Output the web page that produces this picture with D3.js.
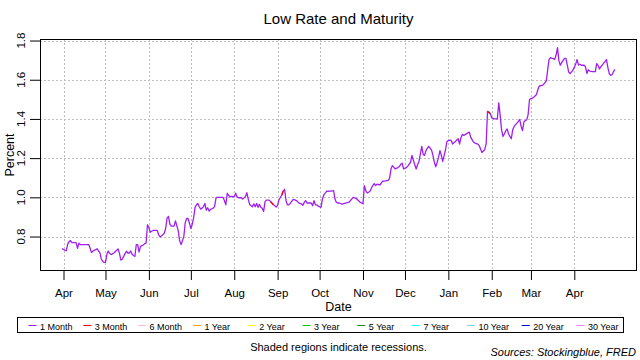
<!DOCTYPE html>
<html>
<head>
<meta charset="utf-8">
<script src="https://cdn.jsdelivr.net/npm/d3@7"></script>
<style>
html,body{margin:0;padding:0;background:#fff;}
svg{display:block;font-family:"Liberation Sans",Arial,sans-serif;}
</style>
</head>
<body>
<svg id="chart" width="640" height="360"></svg>
<script>
const dates = [
"2017-03-31","2017-04-02","2017-04-03","2017-04-04","2017-04-05","2017-04-06","2017-04-07","2017-04-10","2017-04-11","2017-04-12",
"2017-04-13","2017-04-19","2017-04-20","2017-04-21","2017-04-22","2017-04-24","2017-04-25","2017-04-26","2017-04-27","2017-04-28",
"2017-04-29","2017-04-30","2017-05-01","2017-05-02","2017-05-03","2017-05-04","2017-05-05","2017-05-07","2017-05-09","2017-05-10",
"2017-05-11","2017-05-12","2017-05-13","2017-05-14","2017-05-15","2017-05-16","2017-05-17","2017-05-18","2017-05-19","2017-05-20",
"2017-05-21","2017-05-22","2017-05-23","2017-05-24","2017-05-25","2017-05-26","2017-05-28","2017-05-29","2017-05-30","2017-05-31",
"2017-06-01","2017-06-02","2017-06-03","2017-06-04","2017-06-07","2017-06-08","2017-06-09","2017-06-11","2017-06-12","2017-06-13",
"2017-06-14","2017-06-15","2017-06-16","2017-06-17","2017-06-19","2017-06-20","2017-06-21","2017-06-22","2017-06-23","2017-06-24",
"2017-06-25","2017-06-26","2017-06-27","2017-06-28","2017-06-29","2017-06-30","2017-07-01","2017-07-02","2017-07-03","2017-07-04",
"2017-07-05","2017-07-06","2017-07-07","2017-07-08","2017-07-09","2017-07-10","2017-07-11","2017-07-12","2017-07-13","2017-07-14",
"2017-07-15","2017-07-17","2017-07-18","2017-07-19","2017-07-20","2017-07-24","2017-07-25","2017-07-26","2017-07-27","2017-07-28",
"2017-07-29","2017-07-30","2017-08-01","2017-08-02","2017-08-03","2017-08-04","2017-08-06","2017-08-07","2017-08-09","2017-08-10",
"2017-08-11","2017-08-12","2017-08-14","2017-08-15","2017-08-16","2017-08-17","2017-08-18","2017-08-19","2017-08-20","2017-08-21",
"2017-08-22","2017-08-23","2017-08-24","2017-08-26","2017-08-27","2017-08-29","2017-08-30","2017-08-31","2017-09-01","2017-09-02",
"2017-09-04","2017-09-05","2017-09-06","2017-09-07","2017-09-08","2017-09-09","2017-09-10","2017-09-12","2017-09-13","2017-09-15",
"2017-09-16","2017-09-18","2017-09-19","2017-09-20","2017-09-21","2017-09-22","2017-09-23","2017-09-25","2017-09-26","2017-09-27",
"2017-09-28","2017-09-29","2017-09-30","2017-10-02","2017-10-03","2017-10-04","2017-10-05","2017-10-06","2017-10-09","2017-10-11",
"2017-10-12","2017-10-13","2017-10-14","2017-10-15","2017-10-17","2017-10-22","2017-10-25","2017-10-27","2017-10-30","2017-11-01",
"2017-11-02","2017-11-03","2017-11-04","2017-11-05","2017-11-06","2017-11-07","2017-11-08","2017-11-09","2017-11-10","2017-11-11",
"2017-11-13","2017-11-14","2017-11-15","2017-11-17","2017-11-19","2017-11-20","2017-11-21","2017-11-22","2017-11-23","2017-11-24",
"2017-11-26","2017-11-27","2017-11-28","2017-11-29","2017-11-30","2017-12-02","2017-12-03","2017-12-05","2017-12-06","2017-12-07",
"2017-12-08","2017-12-09","2017-12-10","2017-12-11","2017-12-12","2017-12-13","2017-12-14","2017-12-15","2017-12-16","2017-12-17",
"2017-12-18","2017-12-20","2017-12-21","2017-12-22","2017-12-23","2017-12-24","2017-12-25","2017-12-26","2017-12-27","2017-12-28",
"2017-12-29","2017-12-30","2017-12-31","2018-01-01","2018-01-02","2018-01-03","2018-01-04","2018-01-06","2018-01-08","2018-01-09",
"2018-01-10","2018-01-11","2018-01-12","2018-01-13","2018-01-14","2018-01-16","2018-01-17","2018-01-19","2018-01-20","2018-01-22",
"2018-01-23","2018-01-25","2018-01-27","2018-01-28","2018-01-29","2018-01-31","2018-02-01","2018-02-03","2018-02-05","2018-02-06",
"2018-02-07","2018-02-08","2018-02-09","2018-02-10","2018-02-11","2018-02-12","2018-02-13","2018-02-14","2018-02-15","2018-02-16",
"2018-02-17","2018-02-19","2018-02-20","2018-02-21","2018-02-22","2018-02-23","2018-02-24","2018-02-25","2018-02-26","2018-02-27",
"2018-02-28","2018-03-01","2018-03-02","2018-03-03","2018-03-05","2018-03-06","2018-03-07","2018-03-09","2018-03-10","2018-03-12",
"2018-03-13","2018-03-14","2018-03-15","2018-03-16","2018-03-17","2018-03-18","2018-03-19","2018-03-20","2018-03-21","2018-03-22",
"2018-03-23","2018-03-24","2018-03-25","2018-03-26","2018-03-27","2018-03-28","2018-03-29","2018-03-31","2018-04-01","2018-04-02",
"2018-04-03","2018-04-04","2018-04-05","2018-04-06","2018-04-08","2018-04-09","2018-04-10","2018-04-11","2018-04-12","2018-04-14",
"2018-04-16","2018-04-17","2018-04-18","2018-04-19","2018-04-20","2018-04-21","2018-04-22","2018-04-23","2018-04-24","2018-04-25",
"2018-04-26","2018-04-27","2018-04-28","2018-04-29","2018-04-30"
];
const rates = [
0.738,0.730,0.728,0.761,0.774,0.779,0.769,0.769,0.740,0.766,
0.759,0.759,0.740,0.718,0.726,0.733,0.738,0.726,0.718,0.685,
0.674,0.668,0.668,0.709,0.726,0.713,0.708,0.716,0.730,0.737,
0.713,0.680,0.684,0.699,0.713,0.725,0.716,0.716,0.726,0.709,
0.703,0.699,0.759,0.759,0.720,0.750,0.757,0.764,0.766,0.860,
0.846,0.822,0.827,0.831,0.831,0.809,0.798,0.809,0.817,0.841,
0.894,0.903,0.863,0.853,0.853,0.880,0.855,0.829,0.778,0.759,
0.778,0.802,0.872,0.892,0.892,0.868,0.841,0.863,0.897,0.949,
0.962,0.969,0.952,0.940,0.945,0.952,0.969,0.935,0.947,0.930,
0.938,0.945,0.954,0.998,1.000,1.000,0.983,0.962,1.021,1.009,
1.003,1.005,1.003,1.021,1.003,0.998,0.998,0.991,1.003,1.024,
0.991,0.964,0.952,0.967,0.952,0.969,0.949,0.964,0.949,0.944,
0.928,0.978,0.986,0.986,0.978,0.962,0.957,0.950,0.960,0.988,
1.012,1.032,1.041,0.983,0.962,0.962,0.969,0.988,0.988,0.981,
0.972,0.967,0.959,0.974,0.983,0.971,0.971,0.971,0.957,0.983,
0.962,0.962,0.955,0.949,0.991,1.012,1.021,1.031,1.032,1.034,
0.991,0.974,0.971,0.971,0.965,0.975,1.000,0.995,0.975,0.968,
1.060,1.034,1.022,1.026,1.031,1.046,1.060,1.070,1.060,1.067,
1.063,1.072,1.082,1.084,1.087,1.097,1.145,1.162,1.154,1.145,
1.152,1.157,1.169,1.174,1.145,1.152,1.159,1.179,1.214,1.190,
1.166,1.145,1.166,1.183,1.222,1.260,1.219,1.214,1.238,1.251,
1.260,1.241,1.214,1.179,1.156,1.179,1.205,1.238,1.214,1.183,
1.214,1.244,1.285,1.289,1.292,1.291,1.272,1.285,1.299,1.272,
1.304,1.321,1.316,1.320,1.325,1.333,1.306,1.282,1.277,1.272,
1.265,1.229,1.243,1.273,1.439,1.427,1.405,1.400,1.400,1.482,
1.422,1.345,1.311,1.323,1.340,1.349,1.323,1.311,1.299,1.345,
1.362,1.379,1.388,1.397,1.363,1.340,1.385,1.392,1.395,1.422,
1.499,1.504,1.506,1.511,1.525,1.550,1.568,1.571,1.576,1.593,
1.653,1.704,1.713,1.709,1.708,1.704,1.726,1.764,1.696,1.674,
1.687,1.699,1.709,1.709,1.675,1.639,1.631,1.649,1.663,1.680,
1.703,1.675,1.679,1.674,1.675,1.665,1.632,1.651,1.644,1.641,
1.641,1.682,1.673,1.655,1.667,1.675,1.685,1.692,1.703,1.662,
1.631,1.622,1.627,1.641,1.653
];
// dates at which the 3-month bill was the lowest-yielding maturity (segment starting there)
const threeMonthLowDates = ["2017-08-27","2017-09-04","2018-01-29"];

const monthTickDates = ["2017-04-01","2017-05-01","2017-06-01","2017-07-01","2017-08-01","2017-09-01","2017-10-01",
  "2017-11-01","2017-12-01","2018-01-01","2018-02-01","2018-03-01","2018-04-01"];
const monthTickLabels = ["Apr","May","Jun","Jul","Aug","Sep","Oct","Nov","Dec","Jan","Feb","Mar","Apr"];
const yTicks = [0.8,1.0,1.2,1.4,1.6,1.8];
const yTickLabels = ["0.8","1.0","1.2","1.4","1.6","1.8"];

const legendNames = ["1 Month","3 Month","6 Month","1 Year","2 Year","3 Year","5 Year","7 Year","10 Year","20 Year","30 Year"];
const legendColors = ["#A020F0","#FF0000","#FFC0CB","#FFA500","#FFFF00","#00CD00","#228B22","#00FFFF","#87CEEB","#0000CD","#EE82EE"];

const title = "Low Rate and Maturity";
const xLabel = "Date";
const yLabel = "Percent";
const noteText = "Shaded regions indicate recessions.";
const sourceText = "Sources: Stockingblue, FRED";

const parse = d3.utcParse("%Y-%m-%d");
const data = dates.map((d,i)=>({date: parse(d), value: rates[i]}));

const svg = d3.select("#chart");
const L = 40, R = 637, T = 39, B = 271;

const xExt = d3.extent(data, d=>d.date);
const xPad = (xExt[1]-xExt[0])*0.04;
const x = d3.scaleUtc().domain([new Date(+xExt[0]-xPad), new Date(+xExt[1]+xPad)]).range([L,R]);
const yExt = d3.extent(data, d=>d.value);
const yPad = (yExt[1]-yExt[0])*0.04;
const y = d3.scaleLinear().domain([yExt[0]-yPad, yExt[1]+yPad]).range([B,T]);

const tickDates = monthTickDates.map(parse);

// grid
const grid = svg.append("g").attr("stroke","#bebebe").attr("stroke-width",1).attr("stroke-dasharray","2,2");
tickDates.forEach(d=>{
  const xx = Math.round(x(d))+0.5;
  grid.append("line").attr("x1",xx).attr("x2",xx).attr("y1",T).attr("y2",B);
});
yTicks.forEach(v=>{
  const yy = Math.round(y(v))+0.5;
  grid.append("line").attr("x1",L).attr("x2",R).attr("y1",yy).attr("y2",yy);
});

// line
const line = d3.line().x(d=>x(d.date)).y(d=>y(d.value));
svg.append("path").datum(data).attr("d",line).attr("fill","none")
  .attr("stroke","#A020F0").attr("stroke-width",1.3).attr("stroke-linejoin","round");
threeMonthLowDates.forEach(s=>{
  const i = dates.indexOf(s);
  if (i>=0 && i<data.length-1) {
    svg.append("path").datum([data[i],data[i+1]]).attr("d",line).attr("fill","none")
      .attr("stroke","#FF0000").attr("stroke-width",1.3);
  }
});

// box
svg.append("rect").attr("x",L+0.5).attr("y",T+0.5).attr("width",R-L-1).attr("height",B-T-1)
  .attr("fill","none").attr("stroke","#000").attr("stroke-width",1);

// x axis
const xAxis = d3.axisBottom(x).tickValues(tickDates).tickFormat((d,i)=>monthTickLabels[i]).tickSize(9).tickPadding(9);
const gx = svg.append("g").attr("transform",`translate(0,${B})`).call(xAxis);
gx.select(".domain").remove();
gx.selectAll("text").attr("font-size","11.5px").attr("fill","#000").attr("font-family","Liberation Sans, Arial, sans-serif");

// y axis
const yAxis = d3.axisLeft(y).tickValues(yTicks).tickFormat((d,i)=>yTickLabels[i]).tickSize(10).tickPadding(0);
const gy = svg.append("g").attr("transform",`translate(${L},0)`).call(yAxis);
gy.select(".domain").remove();
gy.selectAll("text").remove();
yTicks.forEach((v,i)=>{
  svg.append("text").attr("transform",`translate(25,${y(v)}) rotate(-90)`)
    .attr("text-anchor","middle").attr("font-size","11.5px").text(yTickLabels[i]);
});

// titles
svg.append("text").attr("x",(L+R)/2).attr("y",24).attr("text-anchor","middle").attr("font-size","15px").text(title);
svg.append("text").attr("x",(L+R)/2).attr("y",311).attr("text-anchor","middle").attr("font-size","12.5px").text(xLabel);
svg.append("text").attr("transform",`translate(14,${(T+B)/2}) rotate(-90)`).attr("text-anchor","middle").attr("font-size","12.5px").text(yLabel);

// legend
const lg = svg.append("g");
lg.append("rect").attr("x",17.5).attr("y",317.5).attr("width",606).attr("height",15).attr("fill","#fff").attr("stroke","#000");
const colW = 54.8;
legendNames.forEach((n,i)=>{
  const x0 = 28.5 + i*colW;
  lg.append("line").attr("x1",x0).attr("x2",x0+8).attr("y1",325.5).attr("y2",325.5).attr("stroke",legendColors[i]).attr("stroke-width",1);
  lg.append("text").attr("x",x0+11.5).attr("y",329.5).attr("font-size","9px").text(n);
});

svg.append("text").attr("x",(L+R)/2).attr("y",351).attr("text-anchor","middle").attr("font-size","11px").text(noteText);
svg.append("text").attr("x",636).attr("y",356).attr("text-anchor","end").attr("font-size","11px").attr("font-style","italic").text(sourceText);
</script>
</body>
</html>
